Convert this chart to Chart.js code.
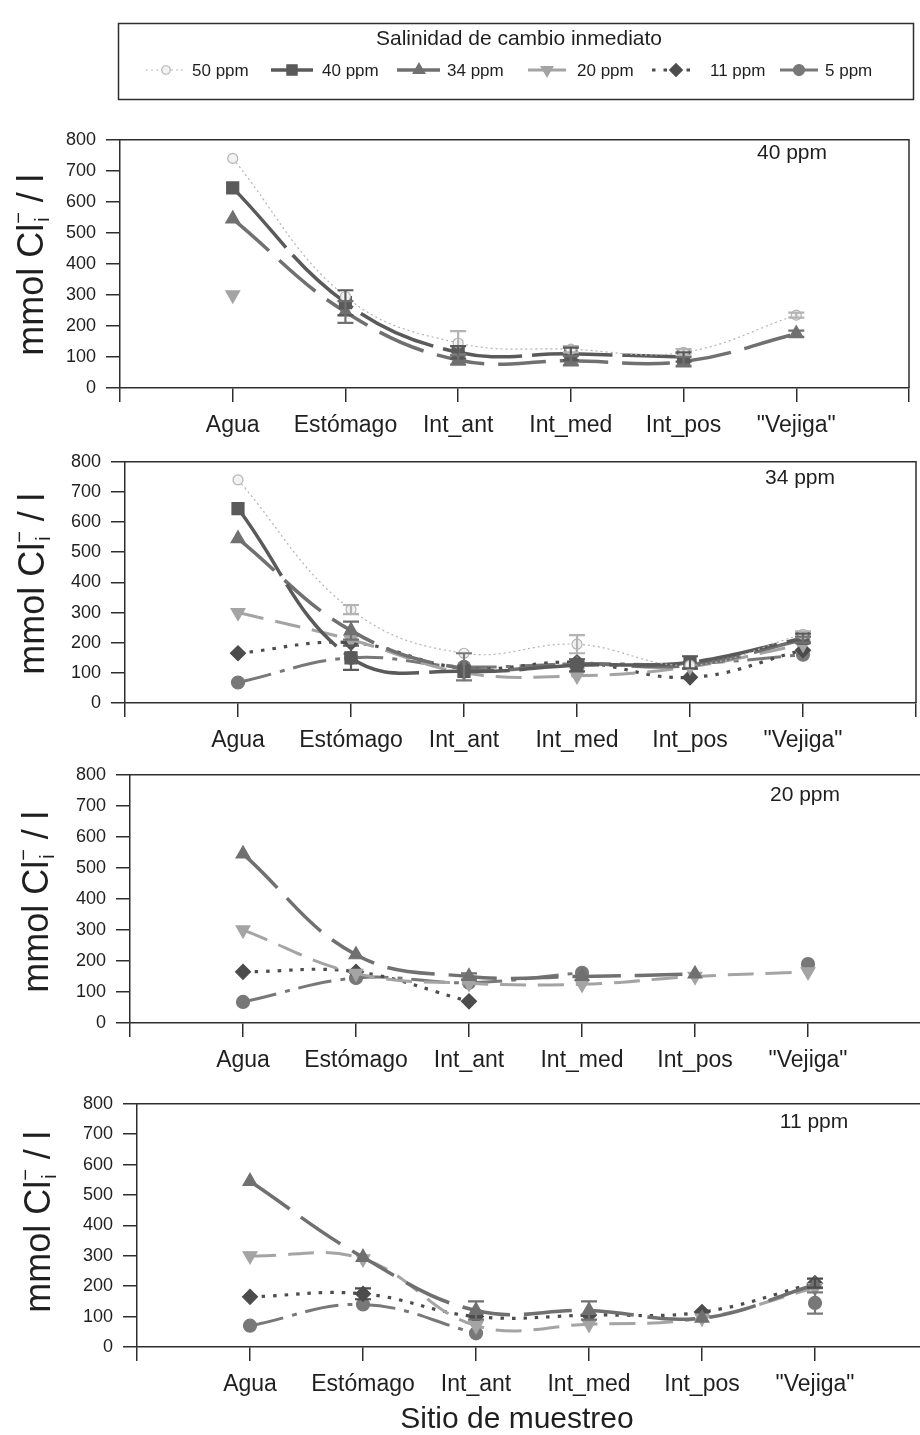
<!DOCTYPE html>
<html>
<head>
<meta charset="utf-8">
<title>Salinidad de cambio inmediato</title>
<script src="https://cdn.jsdelivr.net/npm/chart.js@4.4.1/dist/chart.umd.min.js"></script>
<style>
  html, body { margin: 0; padding: 0; background: #fff; }
  #page { position: relative; width: 920px; height: 1435px; overflow: hidden; background: #fff; }
  #page canvas { position: absolute; left: 0; }
</style>
</head>
<body>
<div id="page">
  <canvas id="legend" width="920" height="110" style="top:0;width:920px;height:110px"></canvas>
  <canvas id="c40"></canvas>
  <canvas id="c34"></canvas>
  <canvas id="c20"></canvas>
  <canvas id="c11"></canvas>
</div>
<script>
// Sampling sites (x categories) and series names
const sites = ['Agua', 'Estómago', 'Int_ant', 'Int_med', 'Int_pos', '"Vejiga"'];
const seriesNames = ['50 ppm', '40 ppm', '34 ppm', '20 ppm', '11 ppm', '5 ppm'];
const yTickValues = [0, 100, 200, 300, 400, 500, 600, 700, 800];

// Panel "40 ppm": mean Cl- (mmol/l) per site, and error bars
const p40_50 = [740, 295, 145, 125, 115, 235];
const p40_40 = [645, 275, 115, 110, 100, null];
const p40_34 = [545, 245, 90, 88, 85, 175];
const p40_20 = [300, null, null, null, null, null];
const p40_e50 = [0, 0, 38, 10, 10, 8];
const p40_e40 = [0, 40, 20, 20, 15, 0];
const p40_e34 = [0, 35, 15, 15, 15, 10];

// Panel "34 ppm"
const p34_50 = [740, 310, 165, 195, 125, 228];
const p34_40 = [645, 150, 105, 125, 135, 215];
const p34_34 = [545, 240, 115, 130, 125, 210];
const p34_20 = [300, 210, 100, 90, 120, 195];
const p34_11 = [165, 200, 115, 135, 85, 175];
const p34_5  = [68, 150, 120, 130, 130, 160];
const p34_e50 = [0, 15, 0, 30, 0, 10];
const p34_e40 = [0, 40, 0, 20, 20, 15];
const p34_e34 = [0, 30, 0, 0, 0, 10];
const p34_e5  = [0, 0, 45, 0, 0, 0];

// Panel "20 ppm"
const p20_34 = [545, 220, 150, 150, 158, null];
const p20_20 = [300, 160, 128, 125, 150, 165];
const p20_11 = [165, 165, 70, null, null, null];
const p20_5  = [68, 145, 130, 162, null, 190];
const p20_e34 = [0, 0, 10, 0, 0, 0];

// Panel "11 ppm"
const p11_34 = [545, 295, 120, 120, 95, 205];
const p11_20 = [300, 290, 70, 75, 95, 195];
const p11_11 = [165, 175, 100, 105, 115, 210];
const p11_5  = [70, 140, 45, null, null, 145];
const p11_e34 = [0, 0, 30, 30, 0, 0];
const p11_e11 = [0, 18, 0, 0, 0, 15];
const p11_e5  = [0, 0, 0, 0, 0, 35];

// ---- styling ----
const FONT = '"Liberation Sans", Arial, Helvetica, sans-serif';
const TEXT = '#1f1f1f';
const AXIS = '#2e2e2e';

const STYLE = {
  '50 ppm': { color: '#b3b3b3', width: 1.2, dash: [2, 3],        point: 'circle',   radius: 5,   fill: '#f2f2f2', rot: 0 },
  '40 ppm': { color: '#5a5a5a', width: 3.5, dash: [80, 10],      point: 'rect',     radius: 8.5, fill: '#5a5a5a', rot: 0 },
  '34 ppm': { color: '#707070', width: 3.5, dash: [48, 14],      point: 'triangle', radius: 8,   fill: '#707070', rot: 0 },
  '20 ppm': { color: '#a4a4a4', width: 3,   dash: [26, 12],      point: 'triangle', radius: 8,   fill: '#a4a4a4', rot: 180 },
  '11 ppm': { color: '#4c4c4c', width: 3.2, dash: [3.5, 8],      point: 'rectRot',  radius: 7.5, fill: '#4c4c4c', rot: 0 },
  '5 ppm':  { color: '#787878', width: 3,   dash: [34, 9, 5, 9], point: 'circle',   radius: 6.5, fill: '#787878', rot: 0 }
};

function makeDataset(name, values, errors) {
  const st = STYLE[name];
  return {
    label: name,
    data: values.map((v, i) => ({ x: i + 1, y: v })),
    errors: errors || null,
    borderColor: st.color,
    backgroundColor: st.fill,
    borderWidth: st.width,
    borderDash: st.dash,
    tension: 0.4,
    spanGaps: false,
    pointStyle: st.point,
    pointRadius: st.radius,
    pointRotation: st.rot,
    pointBackgroundColor: st.fill,
    pointBorderColor: st.color,
    pointBorderWidth: 1.2
  };
}

// Error bars drawn from each dataset's `errors` array through the chart scales
const errorBars = {
  id: 'errorBars',
  afterDatasetsDraw(chart) {
    const ctx = chart.ctx, xs = chart.scales.x, ys = chart.scales.y;
    chart.data.datasets.forEach(ds => {
      if (!ds.errors) return;
      ctx.save();
      ctx.setLineDash([]);
      ctx.strokeStyle = ds.borderColor;
      ctx.lineWidth = 2.2;
      ds.errors.forEach((e, i) => {
        const pt = ds.data[i];
        if (!e || pt.y == null) return;
        const px = xs.getPixelForValue(pt.x);
        const top = ys.getPixelForValue(pt.y + e);
        const bot = ys.getPixelForValue(pt.y - e);
        const cap = 8;
        ctx.beginPath();
        ctx.moveTo(px, top); ctx.lineTo(px, bot);
        ctx.moveTo(px - cap, top); ctx.lineTo(px + cap, top);
        ctx.moveTo(px - cap, bot); ctx.lineTo(px + cap, bot);
        ctx.stroke();
      });
      ctx.restore();
    });
  }
};

function drawYTitle(ctx, cx, cy, size) {
  ctx.save();
  ctx.translate(cx, cy);
  ctx.rotate(-Math.PI / 2);
  ctx.fillStyle = TEXT;
  ctx.textAlign = 'left';
  ctx.textBaseline = 'alphabetic';
  const big = size + 'px ' + FONT;
  const small = Math.round(size * 0.55) + 'px ' + FONT;
  ctx.font = big;
  const w1 = ctx.measureText('mmol Cl').width;
  const w3 = ctx.measureText(' / l').width;
  ctx.font = small;
  const ws = Math.max(ctx.measureText('\u2212').width, ctx.measureText('i').width);
  const total = w1 + ws + w3;
  const x0 = -total / 2;
  const base = size * 0.36;
  ctx.font = big;
  ctx.fillText('mmol Cl', x0, base);
  ctx.font = small;
  ctx.fillText('\u2212', x0 + w1, base - size * 0.5);
  ctx.fillText('i', x0 + w1 + 2, base + size * 0.16);
  ctx.font = big;
  ctx.fillText(' / l', x0 + w1 + ws, base);
  ctx.restore();
}

// Panel frame (top + right border), axis title and panel tag
const frame = {
  id: 'frame',
  afterDraw(chart, args, opts) {
    const ctx = chart.ctx, a = chart.chartArea;
    ctx.save();
    ctx.strokeStyle = AXIS;
    ctx.lineWidth = 1.5;
    ctx.beginPath();
    ctx.moveTo(a.left, a.top);
    ctx.lineTo(a.right, a.top);
    ctx.lineTo(a.right, a.bottom);
    ctx.stroke();
    ctx.restore();

    drawYTitle(ctx, opts.titleX, opts.titleY, 36);

    ctx.save();
    ctx.fillStyle = TEXT;
    ctx.font = '21px ' + FONT;
    ctx.textAlign = 'center';
    ctx.textBaseline = 'middle';
    ctx.fillText(opts.tag, opts.tagX, opts.tagY);
    if (opts.bottomTitle) {
      ctx.font = '30px ' + FONT;
      ctx.fillText(opts.bottomTitle, opts.bottomX, opts.bottomY);
    }
    ctx.restore();
  }
};

// Panel geometry: y-axis position, pixel rows of 800 and 0, right edge
const panels = [
  { id: 'c40', tag: '40 ppm', axisX: 120, y800: 133, y0: 388, right: 909,
    title: [30, 265], tagPos: [792, 153],
    series: [['50 ppm', p40_50, p40_e50], ['40 ppm', p40_40, p40_e40], ['34 ppm', p40_34, p40_e34], ['20 ppm', p40_20, null]] },
  { id: 'c34', tag: '34 ppm', axisX: 125, y800: 455, y0: 703, right: 916,
    title: [31, 584], tagPos: [800, 478],
    series: [['50 ppm', p34_50, p34_e50], ['40 ppm', p34_40, p34_e40], ['34 ppm', p34_34, p34_e34],
             ['20 ppm', p34_20, null], ['11 ppm', p34_11, null], ['5 ppm', p34_5, p34_e5]] },
  { id: 'c20', tag: '20 ppm', axisX: 130, y800: 768, y0: 1023, right: 921,
    title: [35, 902], tagPos: [805, 795],
    series: [['34 ppm', p20_34, p20_e34], ['20 ppm', p20_20, null], ['11 ppm', p20_11, null], ['5 ppm', p20_5, null]] },
  { id: 'c11', tag: '11 ppm', axisX: 137, y800: 1097, y0: 1347, right: 928,
    title: [37, 1222], tagPos: [814, 1122], bottom: ['Sitio de muestreo', 517, 1420],
    series: [['34 ppm', p11_34, p11_e34], ['20 ppm', p11_20, null], ['11 ppm', p11_11, p11_e11], ['5 ppm', p11_5, p11_e5]] }
];

const PAD_TOP = 14, X_AXIS_H = 62, PAD_RIGHT = 10;

panels.forEach(p => {
  const top = p.y800 - PAD_TOP;
  const extraBottom = p.bottom ? 45 : 0;
  const height = (p.y0 - p.y800) + PAD_TOP + X_AXIS_H + extraBottom;
  const width = p.right + PAD_RIGHT;
  const cv = document.getElementById(p.id);
  cv.width = width; cv.height = height;
  cv.style.top = top + 'px';
  cv.style.width = width + 'px';
  cv.style.height = height + 'px';

  new Chart(cv, {
    type: 'line',
    data: { datasets: p.series.map(s => makeDataset(s[0], s[1], s[2])) },
    plugins: [errorBars, frame],
    options: {
      responsive: false,
      animation: false,
      devicePixelRatio: 1,
      layout: { padding: { left: 0, top: PAD_TOP, right: PAD_RIGHT, bottom: extraBottom } },
      plugins: {
        legend: { display: false },
        tooltip: { enabled: false },
        frame: {
          tag: p.tag, tagX: p.tagPos[0], tagY: p.tagPos[1] - top,
          titleX: p.title[0], titleY: p.title[1] - top,
          bottomTitle: p.bottom ? p.bottom[0] : null,
          bottomX: p.bottom ? p.bottom[1] : 0,
          bottomY: p.bottom ? p.bottom[2] - top : 0
        }
      },
      scales: {
        x: {
          type: 'linear', min: 0, max: 7,
          ticks: {
            stepSize: 1, autoSkip: false, maxRotation: 0, minRotation: 0, padding: 10,
            color: TEXT, font: { family: FONT, size: 23 },
            callback: v => (Number.isInteger(v) && sites[v - 1]) ? sites[v - 1] : ''
          },
          grid: { drawOnChartArea: false, drawTicks: true, tickLength: 14, color: AXIS, lineWidth: 1.5 },
          border: { display: true, color: AXIS, width: 1.5 },
          afterFit(s) { s.height = X_AXIS_H; }
        },
        y: {
          min: 0, max: 800,
          afterBuildTicks(s) { s.ticks = yTickValues.map(v => ({ value: v })); },
          ticks: { padding: 10, color: TEXT, font: { family: FONT, size: 18 } },
          grid: { drawOnChartArea: false, drawTicks: true, tickLength: 14, color: AXIS, lineWidth: 1.5 },
          border: { display: true, color: AXIS, width: 1.5 },
          afterFit(s) { s.width = p.axisX; }
        }
      }
    }
  });
});

// ---- legend box ----
function drawMarker(ctx, st, x, y) {
  const r = st.radius;
  ctx.save();
  ctx.setLineDash([]);
  ctx.fillStyle = st.fill;
  ctx.strokeStyle = st.color;
  ctx.lineWidth = 1.2;
  ctx.beginPath();
  if (st.point === 'circle') {
    ctx.arc(x, y, r, 0, Math.PI * 2);
  } else if (st.point === 'rect') {
    const s = r * Math.SQRT1_2;
    ctx.rect(x - s, y - s, 2 * s, 2 * s);
  } else if (st.point === 'rectRot') {
    ctx.moveTo(x, y - r); ctx.lineTo(x + r, y); ctx.lineTo(x, y + r); ctx.lineTo(x - r, y); ctx.closePath();
  } else if (st.point === 'triangle') {
    let rad = st.rot * Math.PI / 180;
    ctx.moveTo(x + Math.sin(rad) * r, y - Math.cos(rad) * r);
    rad += 2 * Math.PI / 3;
    ctx.lineTo(x + Math.sin(rad) * r, y - Math.cos(rad) * r);
    rad += 2 * Math.PI / 3;
    ctx.lineTo(x + Math.sin(rad) * r, y - Math.cos(rad) * r);
    ctx.closePath();
  }
  ctx.fill();
  ctx.stroke();
  ctx.restore();
}

(function drawLegend() {
  const ctx = document.getElementById('legend').getContext('2d');
  ctx.strokeStyle = AXIS;
  ctx.lineWidth = 1.5;
  ctx.strokeRect(118.5, 23.5, 795, 76);
  ctx.fillStyle = TEXT;
  ctx.textBaseline = 'middle';
  ctx.textAlign = 'center';
  ctx.font = '21px ' + FONT;
  ctx.fillText('Salinidad de cambio inmediato', 519, 39);

  const items = [[146, 186, 166, 192], [271, 313, 292, 322], [397, 440, 419, 447],
                 [528, 566, 547, 577], [652, 696, 676, 710], [780, 818, 799, 825]];
  const ly = 70;
  ctx.textAlign = 'left';
  ctx.font = '17px ' + FONT;
  seriesNames.forEach((name, i) => {
    const st = STYLE[name];
    const it = items[i];
    ctx.save();
    ctx.strokeStyle = st.color;
    ctx.lineWidth = st.width;
    ctx.setLineDash(name === '11 ppm' ? [3.5, 8] : (name === '50 ppm' ? [2, 3] : []));
    ctx.beginPath();
    ctx.moveTo(it[0], ly); ctx.lineTo(it[1], ly);
    ctx.stroke();
    ctx.restore();
    drawMarker(ctx, Object.assign({}, st, { radius: st.radius * 0.85 }), it[2], ly);
    ctx.fillStyle = TEXT;
    ctx.fillText(name, it[3], ly + 1);
  });
})();
</script>
</body>
</html>
